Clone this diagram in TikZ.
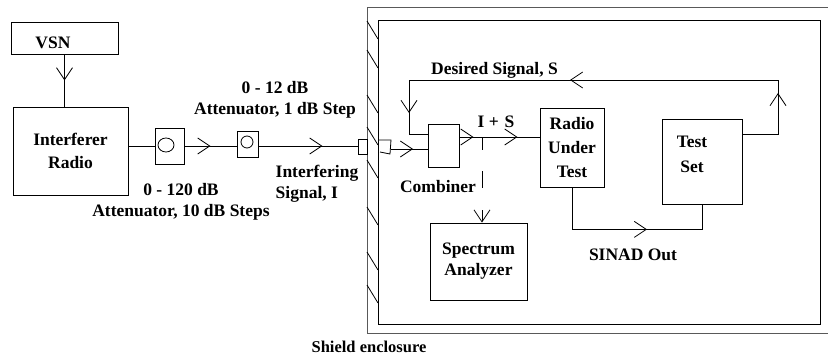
\documentclass[tikz,border=0pt]{standalone}
\usepackage{fontspec}
\setmainfont{Liberation Serif}
\usetikzlibrary{arrows.meta,decorations.markings}

\begin{document}
\begin{tikzpicture}[
		  x=1pt, y=-1pt,
		  line width=0.8pt,
		  >={Straight Barb[length=12pt,width=16pt]},
		  every node/.style={font=\fontsize{17.5}{21}\selectfont\bfseries, align=center}
		]

		\tikzset{
		    caixa/.style={draw, inner sep=0pt},
		    mid/.style={postaction={decorate, decoration={markings, mark=at position #1 with {\arrow{>}}}}}
		}

		\useasboundingbox (0,0) rectangle (828,356);

		% blindagem
		\draw[black!65] (828,7) -| (367,333) -- (828,333);
		\draw (378,20) rectangle (820,324);
		\foreach \y in {21,50,95,127,160,207,252,285}
		  \draw (367,\y) -- ++(11,18);

		% lado do interferidor
		\node[caixa, minimum width=107, minimum height=32] (vsn) at (64.5,38) {};
		\node (vsntxt) at (53,43) {VSN};
		\node[caixa, minimum width=115, minimum height=88, font=\fontsize{17.5}{23}\selectfont\bfseries] (ir) at (70.5,151) {Interferer\\Radio};
		\node[caixa, minimum width=29, minimum height=36] (att1) at (169.5,146) {};
		\draw (166,145) circle[x radius=8pt, y radius=7pt];
		\node[caixa, minimum width=21, minimum height=26] (att2) at (247.5,144) {};
		\draw (247,142) circle[radius=6pt];
		\node[caixa, minimum width=9, minimum height=15] (conA) at (362.5,146.5) {};
		\draw (379,140) -- (391,140) -- (390,154) -- (380,152);
		\coordinate (conB) at (391,149);

		\node (l12) at (275,100) {0 - 12 dB\\Attenuator, 1 dB Step};
		\node (l120) at (181,202) {0 - 120 dB\\Attenuator, 10 dB Steps};
		\node[align=left] (lint) at (317,184) {Interfering\\Signal, I};

		% dentro da blindagem
		\node[caixa, minimum width=31, minimum height=43] (comb) at (443.5,145.5) {};
		\node (combtxt) at (438,187) {Combiner};
		\node[caixa, minimum width=64, minimum height=79, font=\fontsize{17.5}{24}\selectfont\bfseries] (rut) at (572,147.5) {Radio\\Under\\Test};
		\node[caixa, minimum width=80, minimum height=85] (ts) at (702,161.5) {};
		\node (tstxt) at (692,154) {Test\\[4pt]Set};
		\node[caixa, minimum width=97, minimum height=77] (spec) at (478.5,261.5) {Spectrum\\Analyzer};

		\node (lis) at (496,122) {I +\,\,S};
		\node (lds) at (494.5,70) {Desired Signal, S};
		\node (lsinad) at (633,255) {SINAD Out};
		\node (lshield) at (369,347) {\fontsize{16.5}{18}\selectfont Shield enclosure};

		\coordinate (sum) at (482,137);
		\coordinate (tsout) at (742,134);
		\coordinate (cmbin) at (428,134);
		\coordinate (sR) at (778,80);
		\coordinate (sL) at (409,80);

		% setas
		\draw[mid=26pt] (vsn.south) -- (vsn.south |- ir.north);
		\draw (ir.east |- att1.west) -- (att1.west);
		\draw[mid=26pt] (att1.east) -- (att1.east -| att2.west);
		\draw[mid=64pt] (att2.east |- att1.east) -- (att1.east -| conA.west);
		\draw[mid=22pt] (conB) -- (conB -| comb.west);
		\draw[mid=14pt, mid=58pt] (comb.east |- sum) -- (rut.west |- sum);
		\draw[dash pattern=on 13pt off 21pt on 17pt off 22pt on 13pt, -{Straight Barb[length=12pt,width=16pt]}] (sum) -- (sum |- spec.north);
		\draw[mid=117pt] (rut.south) -- ++(0,42) -| (ts.south);
		\draw[mid=77pt, mid=298pt, mid=492pt] (tsout) -| (sR) -- (sL) |- (cmbin);

		\end{tikzpicture}
\end{document}
